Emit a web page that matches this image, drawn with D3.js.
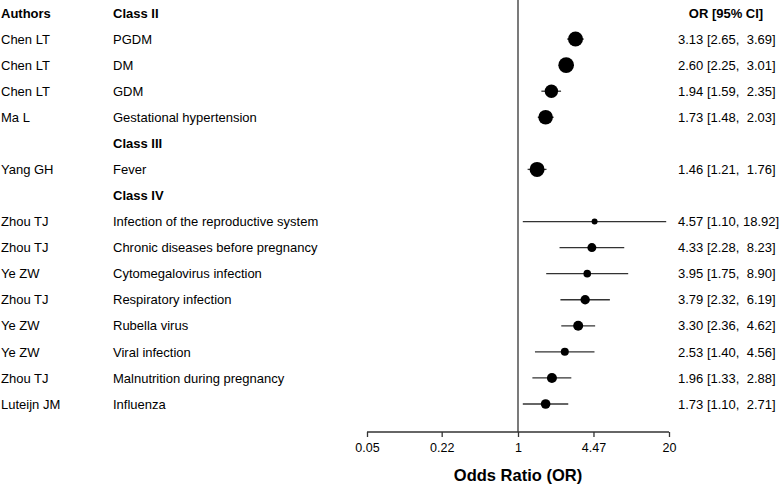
<!DOCTYPE html>
<html>
<head>
<meta charset="utf-8">
<script src="https://cdn.jsdelivr.net/npm/d3@7"></script>
<style>
  html, body { margin: 0; padding: 0; background: #fff; }
  svg { display: block; font-family: "Liberation Sans", Arial, sans-serif; }
</style>
</head>
<body>
<svg id="chart" width="780" height="484"></svg>
<script>
// ---- data ----
const classes = ["Class II", "Class III", "Class IV"];
const studyClass = ["Class II","Class II","Class II","Class II","Class III",
  "Class IV","Class IV","Class IV","Class IV","Class IV","Class IV","Class IV","Class IV"];
const authors = ["Chen LT","Chen LT","Chen LT","Ma L","Yang GH",
  "Zhou TJ","Zhou TJ","Ye ZW","Zhou TJ","Ye ZW","Ye ZW","Zhou TJ","Luteijn JM"];
const factors = ["PGDM","DM","GDM","Gestational hypertension","Fever",
  "Infection of the reproductive system","Chronic diseases before pregnancy",
  "Cytomegalovirus infection","Respiratory infection","Rubella virus",
  "Viral infection","Malnutrition during pregnancy","Influenza"];
const oddsRatio = [3.13,2.60,1.94,1.73,1.46,4.57,4.33,3.95,3.79,3.30,2.53,1.96,1.73];
const lower =     [2.65,2.25,1.59,1.48,1.21,1.10,2.28,1.75,2.32,2.36,1.40,1.33,1.10];
const upper =     [3.69,3.01,2.35,2.03,1.76,18.92,8.23,8.90,6.19,4.62,4.56,2.88,2.71];
const weights =   [1.5,1.56,1.34,1.46,1.5,0.6,0.9,0.76,0.94,1.0,0.8,1.0,0.96];
const tickValues = [0.05, 0.22, 1, 4.47, 20];
const tickLabels = ["0.05", "0.22", "1", "4.47", "20"];

// ---- layout of rows ----
const rows = [];
let r = 0;
classes.forEach((c, ci) => {
  if (ci > 0) r++;
  rows.push({type: "class", label: c, row: r});
  studyClass.forEach((sc, i) => {
    if (sc === c) { r++; rows.push({type: "study", i: i, row: r}); }
  });
});
const nRows = r + 1;

const svg = d3.select("#chart");
const x = d3.scaleLog().domain([0.05, 20]).range([367, 669]);
const y = d3.scaleLinear().domain([0, nRows - 1]).range([13, 404]);
const rad = d3.scaleLinear().domain([0, 1]).range([0, 5]);
const axisY = 432;
const ink = "#000";
const lineCol = "#333";
const FS = 13;

// reference line at OR = 1
svg.append("line")
  .attr("x1", x(1)).attr("x2", x(1))
  .attr("y1", 0).attr("y2", axisY)
  .attr("stroke", lineCol).attr("stroke-width", 1.3);

// axis
const axis = d3.axisBottom(x).tickValues(tickValues)
  .tickFormat((d, i) => tickLabels[i]).tickSize(5).tickSizeOuter(0);
const gA = svg.append("g").attr("transform", `translate(0,${axisY})`).call(axis);
gA.select(".domain").attr("stroke", lineCol).attr("stroke-width", 1.3)
  .attr("d", `M${x(0.05)},0H${x(20)}`);
gA.selectAll(".tick line").attr("stroke", lineCol).attr("stroke-width", 1.3);
gA.selectAll(".tick text").attr("font-size", 12.5).attr("fill", ink)
  .attr("font-family", "Liberation Sans, Arial, sans-serif").attr("dy", "0.95em");

svg.append("text").attr("x", x(1)).attr("y", 481)
  .attr("text-anchor", "middle").attr("font-size", 16.5).attr("font-weight", "bold")
  .attr("fill", ink).text("Odds Ratio (OR)");

const textRow = (xp, row, txt, opts = {}) => svg.append("text")
  .attr("x", xp).attr("y", y(row))
  .attr("dy", "0.36em")
  .attr("font-size", FS)
  .attr("font-weight", opts.bold ? "bold" : "normal")
  .attr("text-anchor", opts.anchor || "start")
  .attr("fill", ink)
  .style("white-space", "pre")
  .text(txt);

textRow(1, 0, "Authors", {bold: true});
textRow(726, 0, "OR [95% CI]", {bold: true, anchor: "middle"});

const fmt = d3.format(".2f");
const pad = (s, n) => " ".repeat(Math.max(0, n - s.length)) + s;

rows.forEach(rw => {
  if (rw.type === "class") {
    textRow(113, rw.row, rw.label, {bold: true});
  } else {
    const i = rw.i;
    textRow(1, rw.row, authors[i]);
    textRow(113, rw.row, factors[i]);
    const label = fmt(oddsRatio[i]) + " [" + fmt(lower[i]) + ", " + pad(fmt(upper[i]), 5) + "]";
    textRow(678, rw.row, label);
    svg.append("line")
      .attr("x1", x(lower[i])).attr("x2", x(upper[i]))
      .attr("y1", y(rw.row)).attr("y2", y(rw.row))
      .attr("stroke", lineCol).attr("stroke-width", 1.3);
    svg.append("circle")
      .attr("cx", x(oddsRatio[i])).attr("cy", y(rw.row))
      .attr("r", rad(weights[i])).attr("fill", ink);
  }
});
</script>
</body>
</html>
